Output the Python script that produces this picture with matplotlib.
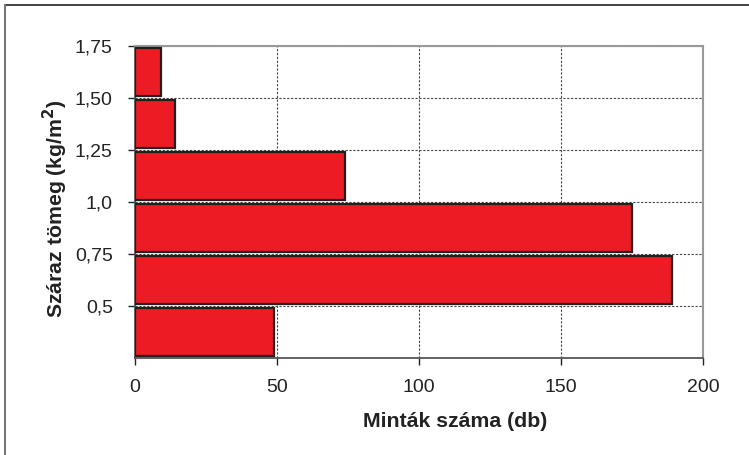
import matplotlib
matplotlib.use('Agg')
import matplotlib.pyplot as plt
from matplotlib.lines import Line2D

# dry-mass classes (kg/m2), lower edges, and sample counts
class_low = [0.25, 0.5, 0.75, 1.0, 1.25, 1.5]
class_width = 0.25
counts = [49, 189, 175, 74, 14, 9]

y_ticks = [0.5, 0.75, 1.0, 1.25, 1.5, 1.75]
y_labels = ['0,5', '0,75', '1,0', '1,25', '1,50', '1,75']
x_ticks = [0, 50, 100, 150, 200]

plt.rcParams['font.family'] = ['Liberation Sans', 'DejaVu Sans']

fig = plt.figure(figsize=(7.49, 4.55), dpi=100)
ax = fig.add_axes([135 / 749, 97 / 455, 568 / 749, 312 / 455])

gap = 0.02
ax.barh([c + class_width / 2 for c in class_low], counts,
        height=class_width - gap, color='#ED1C24', edgecolor='#231F20',
        linewidth=1.6, zorder=3)

ax.set_xlim(0, 200)
ax.set_ylim(0.25, 1.75)
ax.set_xticks(x_ticks)
ax.set_yticks(y_ticks)
ax.set_yticklabels(y_labels)
ax.tick_params(labelsize=14, colors='#222222', length=5, width=1)
ax.tick_params(axis='y', direction='out', pad=11)
ax.tick_params(axis='x', direction='out', pad=10)
ax.grid(True, linestyle=(0, (2, 1.5)), color='#444444', linewidth=0.8, zorder=1)

for s in ['top', 'right']:
    ax.spines[s].set_color('#999999')
    ax.spines[s].set_linewidth(1.5)
for s in ['left', 'bottom']:
    ax.spines[s].set_color('#555555')
    ax.spines[s].set_linewidth(1.3)

ax.set_xlabel('Minták száma (db)', fontsize=15.3, fontweight='bold', color='#222222')
ax.xaxis.set_label_coords(0.563, -0.172)
ax.set_ylabel('Száraz tömeg (kg/m$^\\mathbf{2}$)', fontsize=15.3, fontweight='bold', color='#222222')
ax.yaxis.set_label_coords(-0.114, 0.478)

# frame lines of the scanned figure (top and left)
fig.add_artist(Line2D([5 / 749, 1], [1 - 5 / 455, 1 - 5 / 455],
                      transform=fig.transFigure, color='#222222', linewidth=1.2))
fig.add_artist(Line2D([5 / 749, 5 / 749], [0, 1 - 5 / 455],
                      transform=fig.transFigure, color='#777777', linewidth=1.5))

fig.savefig('out.png', dpi=100)
